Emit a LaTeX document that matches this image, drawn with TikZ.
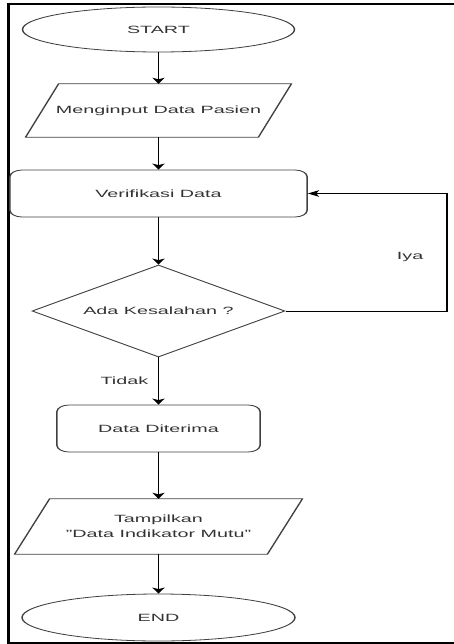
\documentclass[tikz,border=0pt]{standalone}
\usepackage{fontspec}
\setmainfont{Liberation Sans}
\usetikzlibrary{shapes.geometric, arrows.meta, calc}

\begin{document}
\begin{tikzpicture}[x=1pt, y=-1pt]
\useasboundingbox (0,0) rectangle (453,644);
% outer frame, open on the right
\draw[line width=2.3pt] (470,4) -- (8.5,4) -- (8.5,642.8) -- (470,642.8);

% flowchart, set on a horizontally widened canvas
\begin{scope}[x=0.53191pt, y=-1pt, transform canvas={xscale=1.88},
  every node/.style={font=\fontsize{10.5}{15}\selectfont, text=black!80},
  shapeline/.style={draw=black!75, line width=0.8pt},
  terminal/.style={shapeline, ellipse, inner sep=0pt},
  process/.style={shapeline, rectangle, rounded corners=6.5pt, inner sep=0pt},
  decision/.style={shapeline, diamond, aspect=2.75, inner sep=0pt},
  io/.style={rectangle, inner sep=0pt, align=center},
  arr/.style={draw=black, line width=1pt, -{Stealth[length=6pt,width=6.5pt,inset=1.5pt]}},
  lbl/.style={inner sep=0pt}]

  \node[terminal, minimum width=144.7pt, minimum height=45pt] (start) at (158.5,29.5) {START};

  \node[io, minimum width=141pt, minimum height=53pt] (input) at (158.5,110.5) {Menginput Data Pasien};
  \draw[shapeline] ($(input.north west)+(33,0)$) -- (input.north east)
    -- ($(input.south east)+(-33,0)$) -- (input.south west) -- cycle;

  \node[process, minimum width=158pt, minimum height=47pt] (verify) at (158.5,193.5) {Verifikasi Data};

  \node[decision, minimum width=134.6pt, minimum height=92pt] (check) at (158.5,311) {Ada Kesalahan ?};

  \node[process, minimum width=108pt, minimum height=47pt] (accept) at (158.5,428.5) {Data Diterima};

  \node[io, minimum width=152.7pt, minimum height=55pt] (show) at (158.5,526.5) {Tampilkan\\"Data Indikator Mutu"};
  \draw[shapeline] ($(show.north west)+(35,0)$) -- (show.north east)
    -- ($(show.south east)+(-35,0)$) -- (show.south west) -- cycle;

  \node[terminal, minimum width=145.2pt, minimum height=47pt] (end) at (158.5,617.5) {END};

  % connectors
  \draw[arr] (start) -- (input);
  \draw[arr] (input) -- (verify);
  \draw[arr] (verify) -- (check);
  \draw[arr] (check) -- node[lbl, left=5pt] {Tidak} (accept);
  \draw[arr] (check.east) -- ++(161,0) |- (verify.east) node[lbl, pos=0.23, left=12pt] {Iya};
  \draw[arr] (accept) -- (show);
  \draw[arr] (show) -- (end);
\end{scope}
\end{tikzpicture}
\end{document}
